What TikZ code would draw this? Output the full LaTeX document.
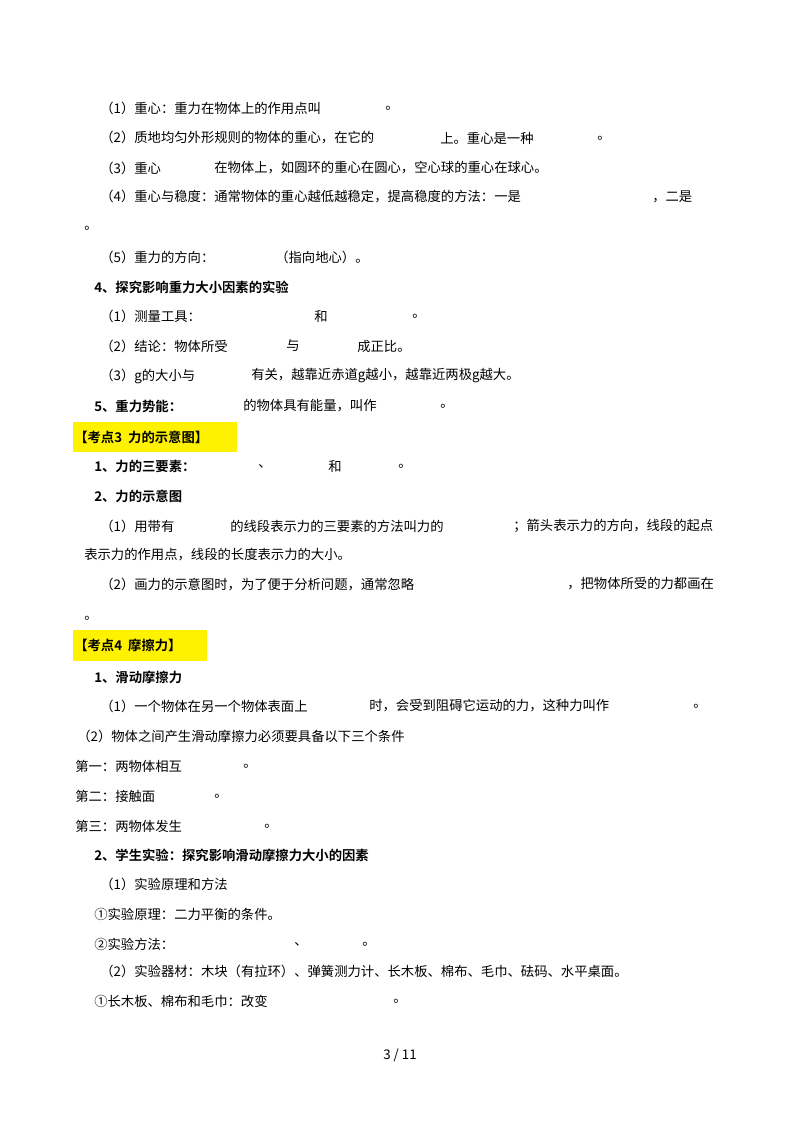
\documentclass[tikz,border=0pt]{standalone}
\usepackage{fontspec}
\setmainfont{Liberation Serif}
\newfontfamily\cjk[BoldFont={Noto Sans CJK SC Bold}]{Noto Sans CJK SC}
\begin{document}
\begin{tikzpicture}[x=0.75pt,y=-0.75pt,
  tx/.style={anchor=west,inner sep=0pt,font=\cjk\fontsize{10}{12}\selectfont},
  bx/.style={tx,font=\cjk\bfseries\fontsize{10}{12}\selectfont},
  hl/.style={fill=yellow,draw=none}]
\useasboundingbox (0,0) rectangle (800,1132);
\newcommand\T[4][tx]{\node[#1] at (#2,#3) {#4};}
\fill[hl] (73,422) rectangle (237,452);
\fill[hl] (73,630) rectangle (207,661);
\T{100}{108}{（1）重心：重力在物体上的作用点叫}\T{385}{108}{。}
\T{100}{138}{（2）质地均匀外形规则的物体的重心，在它的}\T{440}{138}{上。重心是一种}\T{597}{138}{。}
\T{100}{168}{（3）重心}\T{214}{168}{在物体上，如圆环的重心在圆心，空心球的重心在球心。}
\T{100}{197}{（4）重心与稳度：通常物体的重心越低越稳定，提高稳度的方法：一是}\T{652}{197}{，二是}
\T{84}{228}{。}
\T{100}{257}{（5）重力的方向：}\T{275}{257}{（指向地心）。}
\T[bx]{94}{287}{4、探究影响重力大小因素的实验}
\T{100}{316}{（1）测量工具：}\T{314}{316}{和}\T{412}{316}{。}
\T{100}{346}{（2）结论：物体所受}\T{286}{346}{与}\T{357}{346}{成正比。}
\T{100}{376}{（3）\textit{g}的大小与}\T{251}{376}{有关，越靠近赤道\textit{g}越小，越靠近两极\textit{g}越大。}
\T[bx]{94}{406}{5、重力势能：}\T{243}{406}{的物体具有能量，叫作}\T{440}{406}{。}
\T[bx]{74}{437}{【考点3\ \ 力的示意图】}
\T[bx]{94}{466}{1、力的三要素：}\T{258}{466}{、}\T{328}{466}{和}\T{398}{466}{。}
\T[bx]{94}{496}{2、力的示意图}
\T{100}{526}{（1）用带有}\T{230}{526}{的线段表示力的三要素的方法叫力的}\T{513}{526}{；箭头表示力的方向，线段的起点}
\T{84}{555}{表示力的作用点，线段的长度表示力的大小。}
\T{100}{584}{（2）画力的示意图时，为了便于分析问题，通常忽略}\T{567}{584}{，把物体所受的力都画在}
\T{84}{618}{。}
\T[bx]{74}{645}{【考点4\ \ 摩擦力】}
\T[bx]{94}{677}{1、滑动摩擦力}
\T{100}{706}{（1）一个物体在另一个物体表面上}\T{369}{706}{时，会受到阻碍它运动的力，这种力叫作}\T{693}{706}{。}
\T{77}{736}{（2）物体之间产生滑动摩擦力必须要具备以下三个条件}
\T{75}{766}{第一：两物体相互}\T{243}{766}{。}
\T{75}{796}{第二：接触面}\T{214}{796}{。}
\T{75}{826}{第三：两物体发生}\T{264}{826}{。}
\T[bx]{94}{855}{2、学生实验：探究影响滑动摩擦力大小的因素}
\T{100}{884}{（1）实验原理和方法}
\T{94}{914}{①实验原理：二力平衡的条件。}
\T{94}{944}{②实验方法：}\T{294}{944}{、}\T{362}{944}{。}
\T{100}{971}{（2）实验器材：木块（有拉环）、弹簧测力计、长木板、棉布、毛巾、砝码、水平桌面。}
\T{94}{1001}{①长木板、棉布和毛巾：改变}\T{393}{1001}{。}
\node[tx,anchor=center] at (400,1055) {3 / 11};
\end{tikzpicture}
\end{document}
